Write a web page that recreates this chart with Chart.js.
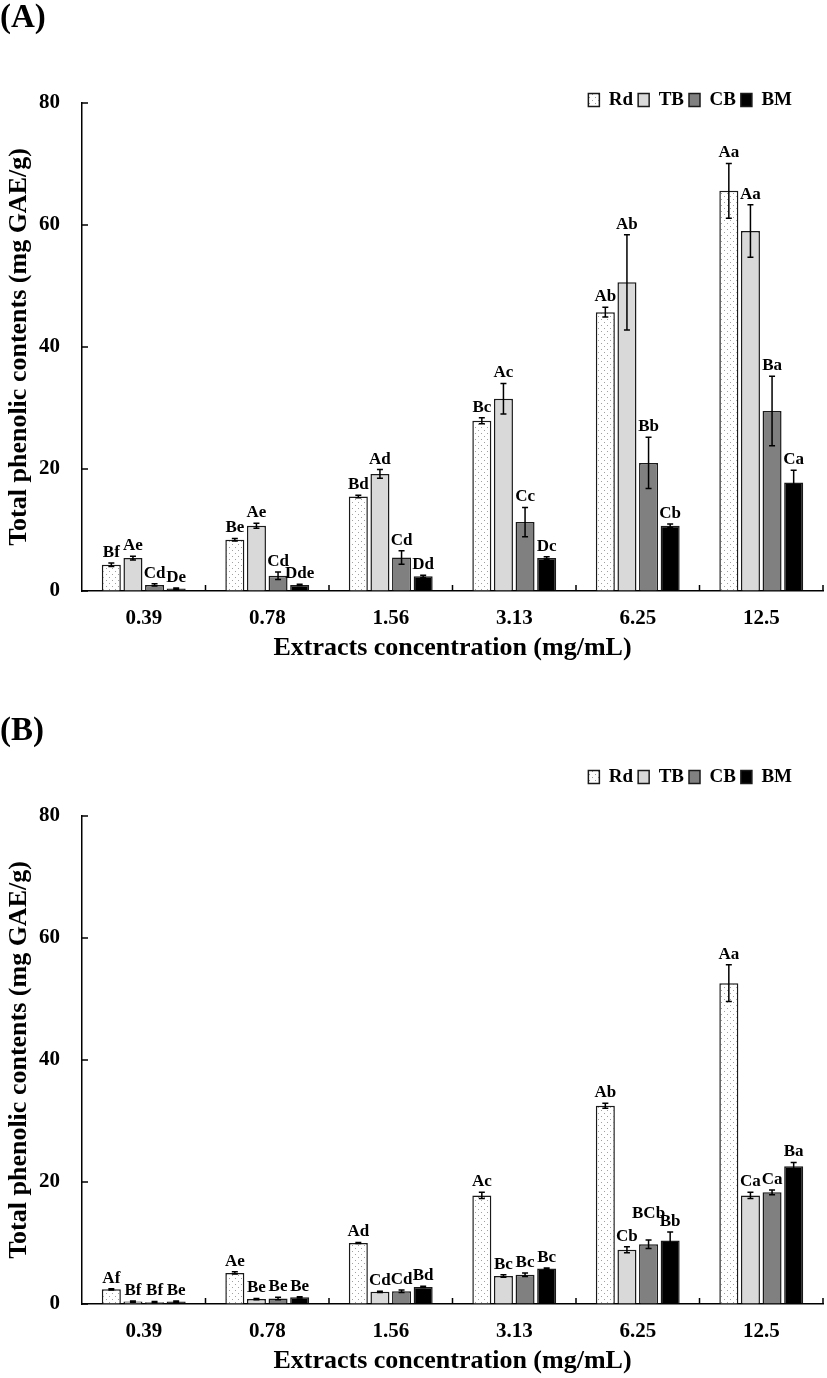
<!DOCTYPE html>
<html>
<head>
<meta charset="utf-8">
<script src="https://cdn.jsdelivr.net/npm/chart.js@4.4.1/dist/chart.umd.min.js"></script>
<style>
  html, body { margin: 0; padding: 0; background: #fff; }
  .panel { position: relative; width: 827px; height: 665px; }
  .gap { height: 48px; }
</style>
</head>
<body>
<div class="panel"><canvas id="chartA"></canvas></div>
<div class="gap"></div>
<div class="panel"><canvas id="chartB"></canvas></div>
<script>
const categories = ["0.39", "0.78", "1.56", "3.13", "6.25", "12.5"];
const seriesNames = ["Rd", "TB", "CB", "BM"];
const yTicks = [0, 20, 40, 60, 80];

// panel A
const rdA = [4.3, 8.4, 15.5, 27.9, 45.7, 65.6];
const tbA = [5.4, 10.7, 19.2, 31.5, 50.6, 59.0];
const cbA = [1.0, 2.5, 5.5, 11.3, 21.0, 29.5];
const bmA = [0.4, 1.0, 2.4, 5.4, 10.7, 17.8];
const rdErrA = [0.3, 0.2, 0.2, 0.5, 0.8, 4.5];
const tbErrA = [0.3, 0.4, 0.7, 2.5, 7.8, 4.3];
const cbErrA = [0.2, 0.6, 1.1, 2.4, 4.2, 5.7];
const bmErrA = [0.1, 0.1, 0.2, 0.2, 0.3, 2.0];
const rdLabA = ["Bf", "Be", "Bd", "Bc", "Ab", "Aa"];
const tbLabA = ["Ae", "Ae", "Ad", "Ac", "Ab", "Aa"];
const cbLabA = ["Cd", "Cd", "Cd", "Cc", "Bb", "Ba"];
const bmLabA = ["De", "Dde", "Dd", "Dc", "Cb", "Ca"];

// panel B
const rdB = [2.4, 5.1, 10.0, 17.8, 32.5, 52.6];
const tbB = [0.4, 0.8, 2.0, 4.6, 8.9, 17.8];
const cbB = [0.3, 0.9, 2.1, 4.8, 9.8, 18.3];
const bmB = [0.4, 1.1, 2.8, 5.8, 10.4, 22.6];
const rdErrB = [0.1, 0.2, 0.1, 0.5, 0.4, 3.0];
const tbErrB = [0.1, 0.1, 0.1, 0.2, 0.5, 0.5];
const cbErrB = [0.1, 0.2, 0.2, 0.3, 0.7, 0.4];
const bmErrB = [0.1, 0.1, 0.1, 0.1, 1.4, 0.6];
const rdLabB = ["Af", "Ae", "Ad", "Ac", "Ab", "Aa"];
const tbLabB = ["Bf", "Be", "Cd", "Bc", "Cb", "Ca"];
const cbLabB = ["Bf", "Be", "Cd", "Bc", "BCb", "Ca"];
const bmLabB = ["Be", "Be", "Bd", "Bc", "Bb", "Ba"];

const SERIF = "'Liberation Serif', 'Times New Roman', serif";
Chart.defaults.font.family = SERIF;
Chart.defaults.font.weight = "bold";
Chart.defaults.color = "#000";

function dotPattern(ctx) {
  const c = document.createElement("canvas");
  c.width = 6;
  c.height = 6;
  const g = c.getContext("2d");
  g.fillStyle = "#fff";
  g.fillRect(0, 0, 6, 6);
  g.fillStyle = "#a0a0a0";
  g.fillRect(1, 1, 1, 1);
  g.fillRect(4, 4, 1, 1);
  return ctx.createPattern(c, "repeat");
}

// error bars + significance letters, drawn through the y scale
const errorBars = {
  id: "errorBars",
  afterDatasetsDraw(chart, args, opts) {
    const ctx = chart.ctx;
    const y = chart.scales.y;
    const lift = opts.lift || {};
    ctx.save();
    ctx.strokeStyle = "#000";
    ctx.lineWidth = 1.5;
    ctx.fillStyle = "#000";
    ctx.font = "bold 17px " + SERIF;
    ctx.textAlign = "center";
    ctx.textBaseline = "bottom";
    chart.data.datasets.forEach((ds, i) => {
      chart.getDatasetMeta(i).data.forEach((bar, j) => {
        const v = ds.data[j];
        const e = ds.errors[j];
        const top = y.getPixelForValue(v + e);
        const bot = y.getPixelForValue(Math.max(v - e, 0));
        ctx.beginPath();
        ctx.moveTo(bar.x, top);
        ctx.lineTo(bar.x, bot);
        ctx.moveTo(bar.x - 3, top);
        ctx.lineTo(bar.x + 3, top);
        ctx.moveTo(bar.x - 3, bot);
        ctx.lineTo(bar.x + 3, bot);
        ctx.stroke();
        ctx.fillText(ds.letters[j], bar.x, top - 2 - (lift[i + "," + j] || 0));
      });
    });
    ctx.restore();
  },
};

// small inward tick marks on both axes
const innerTicks = {
  id: "innerTicks",
  afterDraw(chart) {
    const ctx = chart.ctx;
    const x = chart.scales.x;
    const y = chart.scales.y;
    const area = chart.chartArea;
    ctx.save();
    ctx.strokeStyle = "#000";
    ctx.lineWidth = 1.5;
    ctx.beginPath();
    for (let i = 0; i < categories.length; i++) {
      const px = i < categories.length - 1
        ? (x.getPixelForValue(i) + x.getPixelForValue(i + 1)) / 2
        : area.right;
      ctx.moveTo(px, area.bottom);
      ctx.lineTo(px, area.bottom - 6);
    }
    yTicks.forEach((t) => {
      const py = y.getPixelForValue(t);
      ctx.moveTo(area.left, py);
      ctx.lineTo(area.left + 6, py);
    });
    ctx.stroke();
    ctx.restore();
  },
};

// nudge the legend box: in from the right edge, and down if asked
const legendShift = {
  id: "legendShift",
  afterLayout(chart, args, opts) {
    const lg = chart.legend;
    if (!lg) return;
    lg.left -= 26;
    lg.right -= 26;
    lg.top += opts.down || 0;
    lg.bottom += opts.down || 0;
  },
};

function makeChart(id, title, vals, errs, labs, lay) {
  const canvas = document.getElementById(id);
  const ctx = canvas.getContext("2d");
  const fills = [dotPattern(ctx), "#d9d9d9", "#808080", "#000000"];

  const datasets = seriesNames.map((name, i) => ({
    label: name,
    data: vals[i],
    errors: errs[i],
    letters: labs[i],
    backgroundColor: fills[i],
    borderColor: "#1a1a1a",
    borderWidth: 1.5,
    categoryPercentage: 0.7,
    barPercentage: 0.88,
  }));

  return new Chart(ctx, {
    type: "bar",
    data: { labels: categories, datasets },
    options: {
      responsive: true,
      maintainAspectRatio: false,
      animation: false,
      layout: { padding: { left: 0, right: 4, top: 0, bottom: 0 } },
      plugins: {
        title: {
          display: true,
          text: title,
          align: "start",
          font: { size: 33, weight: "bold", lineHeight: 1 },
          padding: { top: 2, bottom: lay.titleBottom },
        },
        subtitle: {
          display: lay.spacer > 0,
          text: "",
          weight: 500,
          font: { size: Math.max(lay.spacer, 1), lineHeight: 1 },
          padding: 0,
        },
        legend: {
          display: true,
          position: "top",
          align: "end",
          labels: {
            boxWidth: 11,
            boxHeight: 13,
            padding: 5,
            font: { size: 19, weight: "bold" },
            color: "#000",
          },
        },
        legendShift: { down: lay.legendDown },
        errorBars: { lift: lay.lift },
        tooltip: { enabled: false },
      },
      scales: {
        x: {
          offset: true,
          ticks: { padding: 15, font: { size: 21 } },
          grid: { display: true, drawOnChartArea: false, drawTicks: false },
          border: { color: "#000", width: 1.5 },
          title: {
            display: true,
            text: "Extracts concentration (mg/mL)",
            font: { size: 26 },
            padding: { top: 0, bottom: 1.4 },
          },
          afterFit(s) { s.height = 74; },
        },
        y: {
          min: 0,
          max: 80,
          afterBuildTicks(s) { s.ticks = yTicks.map((v) => ({ value: v })); },
          ticks: { padding: 22, font: { size: 21 } },
          grid: { display: true, drawOnChartArea: false, drawTicks: false },
          border: { color: "#000", width: 1.5 },
          title: {
            display: true,
            text: "Total phenolic contents (mg GAE/g)",
            font: { size: 26 },
            padding: { top: 3.5, bottom: 0 },
          },
          afterFit(s) { s.width = 82; },
        },
      },
    },
    plugins: [errorBars, innerTicks, legendShift],
  });
}

makeChart("chartA", "(A)",
  [rdA, tbA, cbA, bmA], [rdErrA, tbErrA, cbErrA, bmErrA], [rdLabA, tbLabA, cbLabA, bmLabA],
  { titleBottom: 34, legendDown: 16.5, spacer: 0, lift: {} });

makeChart("chartB", "(B)",
  [rdB, tbB, cbB, bmB], [rdErrB, tbErrB, cbErrB, bmErrB], [rdLabB, tbLabB, cbLabB, bmLabB],
  { titleBottom: 14.5, legendDown: 0, spacer: 19.5, lift: { "2,4": 16 } });
</script>
</body>
</html>
